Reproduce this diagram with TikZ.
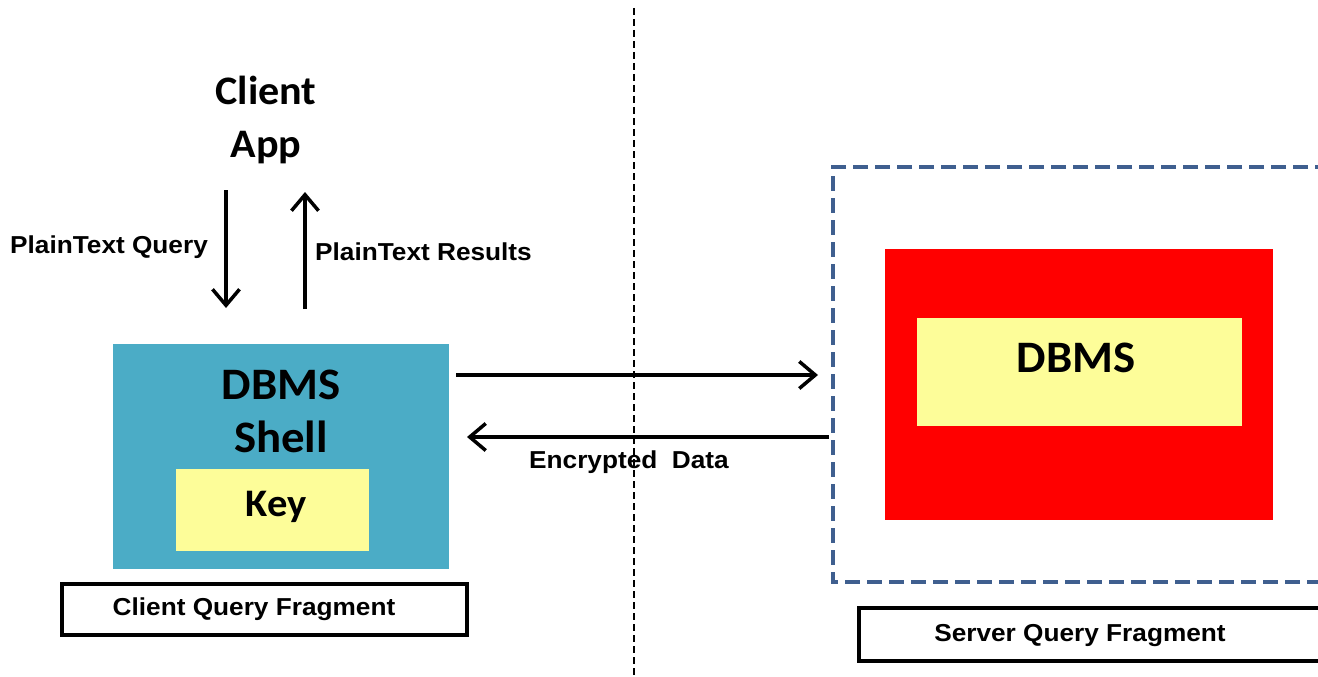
\documentclass[tikz,border=0pt]{standalone}
\usepackage{fontspec}
\setmainfont{Liberation Sans}
\newfontfamily\arialw[FakeStretch=1.07]{Liberation Sans}
\newfontfamily\calib[FakeStretch=1.04]{Carlito}
\usetikzlibrary{arrows.meta}
\definecolor{tealbox}{HTML}{4BACC6}
\definecolor{keyyellow}{HTML}{FDFD99}
\definecolor{dashblue}{HTML}{3F5F8F}
\tikzset{
  big/.style={font=\calib\bfseries\fontsize{45}{53}\selectfont, align=center, inner sep=0pt},
  small/.style={font=\arialw\bfseries\fontsize{24.5}{28}\selectfont, inner sep=0pt},
  arr/.style={line width=3.5pt, -{Straight Barb[length=16pt, width=27pt]}},
  fragbox/.style={draw=black, line width=3.5pt, fill=white},
}
\begin{document}
\begin{tikzpicture}[x=1pt, y=-1pt]
\useasboundingbox (0,0) rectangle (1318,677);
% divider
\draw[line width=2pt, dash pattern=on 7pt off 4pt] (634,8) -- (634,677);
% client app
\node[big, font=\calib\bfseries\fontsize{40.5}{53}\selectfont] (app) at (266,120) {Client\\App};
% plain arrows
\coordinate (qs) at (226,190);
\coordinate (qe) at (226,308);
\draw[arr] (qs) -- (qe);
\coordinate (rs) at (305,309);
\coordinate (re) at (305,192);
\draw[arr] (rs) -- (re);
\node[small, anchor=west] (ptq) at (10,247) {PlainText Query};
\node[small, anchor=west] (ptr) at (315,252) {PlainText Results};
% client shell
\fill[tealbox] (113,344) rectangle (449,569);
\node[big] (shell) at (281,411) {DBMS\\Shell};
\fill[keyyellow] (176,469) rectangle (369,551);
\node[big, font=\calib\bfseries\fontsize{39}{44}\selectfont] (key) at (276,507) {Key};
% client frag
\draw[fragbox] (62,584) rectangle (467,635);
\node[small] (cqf) at (254,609.5) {Client Query Fragment};
% server
\draw[dashblue, line width=4pt, dash pattern=on 15pt off 7pt] (1330,167) -- (833,167) -- (833,582) -- (1330,582);
\fill[red] (885,249) rectangle (1273,520);
\fill[keyyellow] (917,318) rectangle (1242,426);
\node[big] (dbms) at (1076,358) {DBMS};
% fragment server
\draw[fragbox] (1330,608) -- (859,608) -- (859,661) -- (1330,661);
\node[small] (sqf) at (1080,636) {Server Query Fragment};
% encrypted arrows
\coordinate (a1s) at (456,375);
\coordinate (a1e) at (818,375);
\draw[arr] (a1s) -- (a1e);
\coordinate (a2s) at (829,437);
\coordinate (a2e) at (467,437);
\draw[arr] (a2s) -- (a2e);
\node[small] (enc) at (629,462) {Encrypted\ \ Data};
\end{tikzpicture}
\end{document}
